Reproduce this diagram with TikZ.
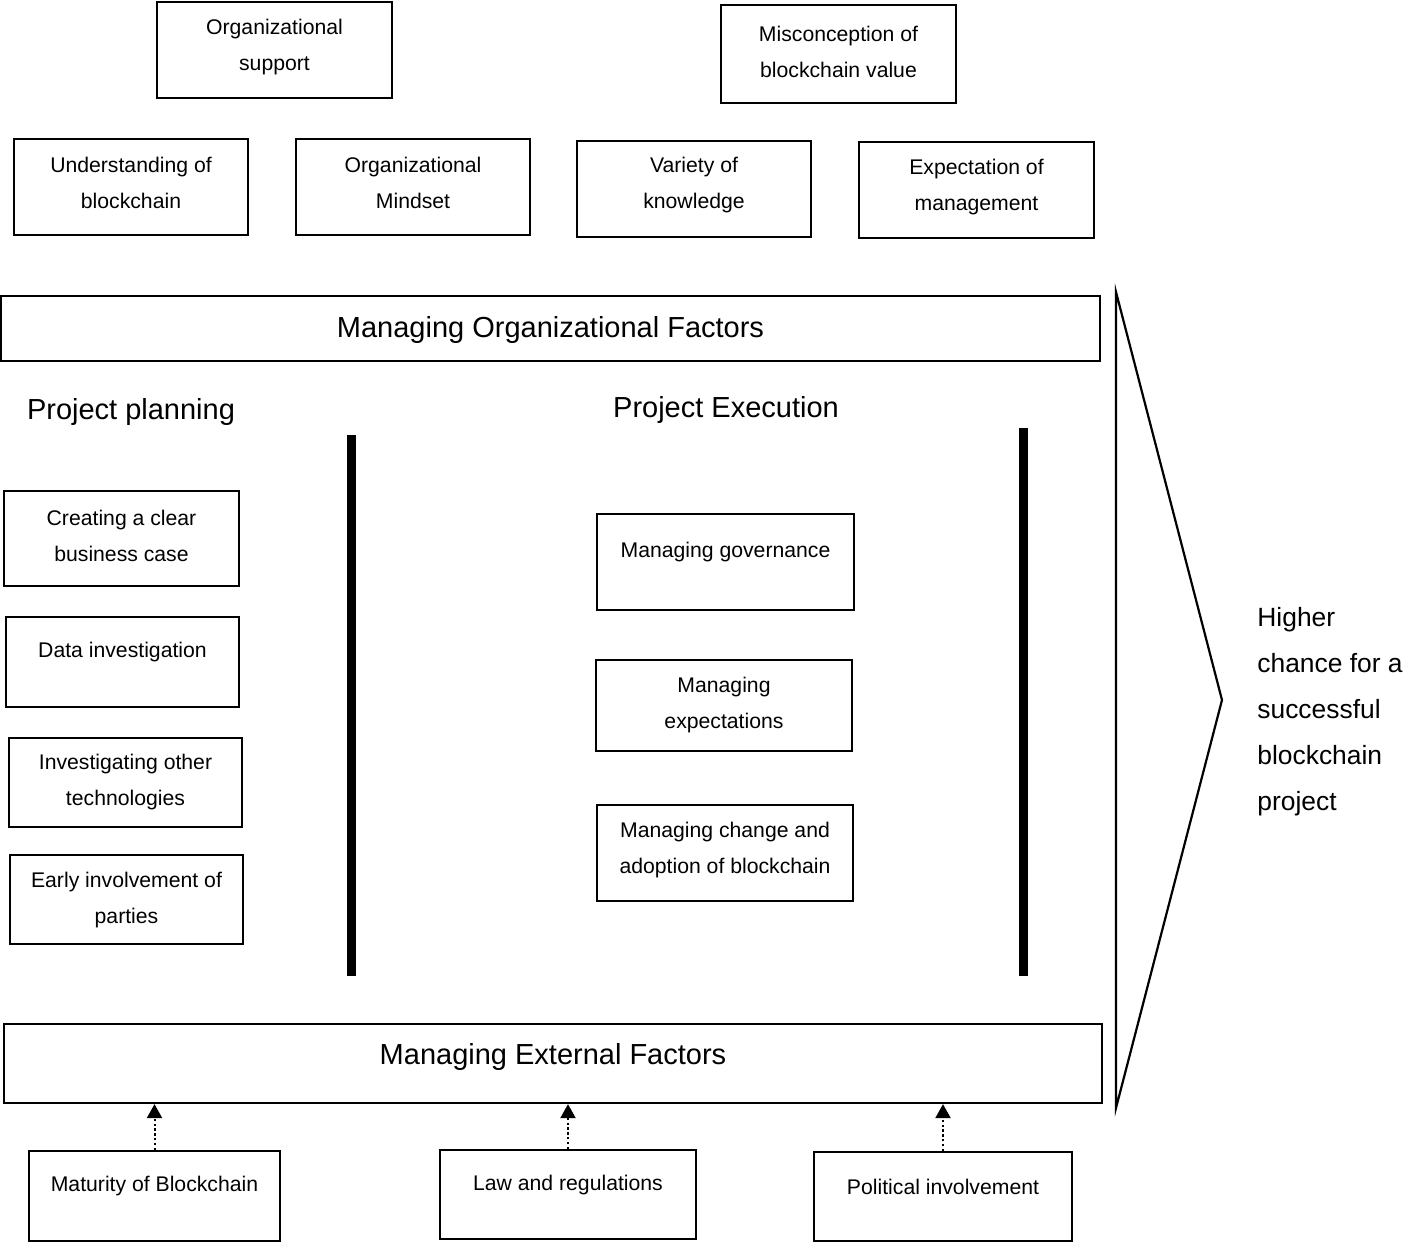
\documentclass[tikz,border=0pt]{standalone}
\usepackage{fontspec}
\setmainfont{Liberation Sans}
\usetikzlibrary{fit,arrows.meta}

\tikzset{
  box/.style={draw=black, line width=1.1pt, inner sep=0pt, fill=white},
  small/.style={align=center, font=\fontsize{10.6}{18}\selectfont, inner sep=0pt, yshift=-1pt},
  big/.style={align=center, font=\fontsize{14.5}{20}\selectfont, inner sep=0pt, yshift=-1.5pt},
  bar/.style={fill=black, draw=none},
  influence/.style={line width=1pt, dash pattern=on 1.2pt off 1.2pt,
    -{Triangle[length=7pt,width=7.5pt]}},
}

\begin{document}
\begin{tikzpicture}[x=0.5pt, y=-0.5pt]
  \useasboundingbox (0,0) rectangle (1404,1243);

  % organisational factor boxes
  \node[box, fit={(157,2) (392,98)}] (osb) {};
  \node[small] (os) at (274.5,45) {Organizational\\support};
  \node[box, fit={(721,5) (956,103)}] (misb) {};
  \node[small] (mis) at (838.5,49.5) {Misconception of\\blockchain value};
  \node[box, fit={(14,139) (248,235)}] (ubb) {};
  \node[small] (ub) at (131,180.5) {Understanding of\\blockchain};
  \node[box, fit={(296,139) (530,235)}] (omb) {};
  \node[small] (om) at (413,180.5) {Organizational\\Mindset};
  \node[box, fit={(577,141) (811,237)}] (vkb) {};
  \node[small] (vk) at (694,183.5) {Variety of\\knowledge};
  \node[box, fit={(859,142) (1094,238)}] (emb) {};
  \node[small] (em) at (976.5,185.5) {Expectation of\\management};

  % managing organisational factors
  \node[box, fit={(1,296) (1100,361)}] (mofb) {};
  \node[big] (mof) at (550.5,327) {Managing Organizational Factors};

  % phase headings
  \node[big] (pp) at (131,409) {Project planning};
  \node[big] (pe) at (726,407) {Project Execution};

  % phase separators
  \fill[bar] (347,435) rectangle (356,976);
  \fill[bar] (1019,428) rectangle (1028,976);

  % project planning boxes
  \node[box, fit={(4,491) (239,586)}] (cbcb) {};
  \node[small] (cbc) at (121.5,534) {Creating a clear\\business case};
  \node[box, fit={(6,617) (239,707)}] (dib) {};
  \node[small] (di) at (122.5,650) {Data investigation};
  \node[box, fit={(9,738) (242,827)}] (iotb) {};
  \node[small] (iot) at (125.5,780) {Investigating other\\technologies};
  \node[box, fit={(10,855) (243,944)}] (eipb) {};
  \node[small] (eip) at (126.5,898.5) {Early involvement of\\parties};

  % project execution boxes
  \node[box, fit={(597,514) (854,610)}] (mgb) {};
  \node[small] (mg) at (725.5,550) {Managing governance};
  \node[box, fit={(596,660) (852,751)}] (meb) {};
  \node[small] (me) at (724,703.5) {Managing\\expectations};
  \node[box, fit={(597,805) (853,901)}] (mcb) {};
  \node[small] (mc) at (725,848) {Managing change and\\adoption of blockchain};

  % managing external factors
  \node[box, fit={(4,1024) (1102,1103)}] (mefb) {};
  \node[big] (mef) at (553,1054) {Managing External Factors};

  % external factor boxes
  \node[box, fit={(29,1151) (280,1241)}] (mbb) {};
  \node[small] (mb) at (154.5,1184) {Maturity of Blockchain};
  \node[box, fit={(440,1150) (696,1239)}] (lrb) {};
  \node[small] (lr) at (568,1183) {Law and regulations};
  \node[box, fit={(814,1152) (1072,1241)}] (pib) {};
  \node[small] (pi) at (943,1185) {Political involvement};

  % influences of external factors
  \draw[influence] (mbb.north) -- (mbb.north |- mefb.south);
  \draw[influence] (lrb.north) -- (lrb.north |- mefb.south);
  \draw[influence] (pib.north) -- (pib.north |- mefb.south);

  % outcome chevron
  \coordinate (ctop) at (1116,292);
  \coordinate (capex) at (1222,700);
  \coordinate (cbot) at (1116,1108);
  \draw[line width=1.1pt, line join=miter] (ctop) -- (capex) -- (cbot) -- cycle;

  \node[align=left, anchor=west, inner sep=0pt, yshift=-1.5pt,
        font=\fontsize{13.2}{23}\selectfont] (out) at (1257,708.5)
    {Higher\\chance for a\\successful\\blockchain\\project};
\end{tikzpicture}
\end{document}
